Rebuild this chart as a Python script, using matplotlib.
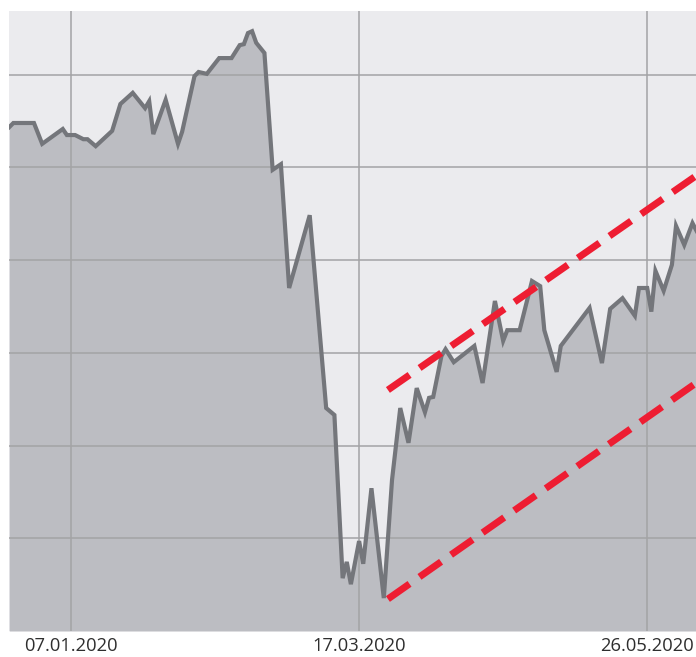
import matplotlib
matplotlib.use("Agg")
import matplotlib.pyplot as plt
import pandas as pd

# Index path (approximate vertices)
dates = [
    "2019-12-23", "2019-12-24", "2019-12-29", "2019-12-31", "2020-01-05",
    "2020-01-06", "2020-01-08", "2020-01-10", "2020-01-11", "2020-01-13",
    "2020-01-17", "2020-01-19", "2020-01-22", "2020-01-25", "2020-01-26",
    "2020-01-27", "2020-01-30", "2020-02-02", "2020-02-03", "2020-02-06",
    "2020-02-07", "2020-02-09", "2020-02-12", "2020-02-15", "2020-02-17",
    "2020-02-18", "2020-02-19", "2020-02-20", "2020-02-21", "2020-02-23",
    "2020-02-25", "2020-02-27", "2020-02-29", "2020-03-05", "2020-03-09",
    "2020-03-11", "2020-03-13", "2020-03-14", "2020-03-15", "2020-03-17",
    "2020-03-18", "2020-03-20", "2020-03-23", "2020-03-25", "2020-03-27",
    "2020-03-29", "2020-03-31", "2020-04-02", "2020-04-03", "2020-04-04",
    "2020-04-06", "2020-04-07", "2020-04-09", "2020-04-14", "2020-04-16",
    "2020-04-19", "2020-04-21", "2020-04-22", "2020-04-25", "2020-04-28",
    "2020-04-30", "2020-05-01", "2020-05-04", "2020-05-05", "2020-05-12",
    "2020-05-15", "2020-05-17", "2020-05-20", "2020-05-23", "2020-05-24",
    "2020-05-26", "2020-05-27", "2020-05-28", "2020-05-30", "2020-06-01",
    "2020-06-02", "2020-06-04", "2020-06-06", "2020-06-07",
]
values = [
    3287, 3296, 3296, 3251, 3283,
    3270, 3270, 3261, 3261, 3246,
    3279, 3337, 3361, 3328, 3343,
    3272, 3346, 3251, 3277, 3397,
    3406, 3402, 3436, 3436, 3464,
    3466, 3490, 3494, 3469, 3447,
    3195, 3207, 2940, 3097, 2681,
    2666, 2314, 2349, 2301, 2394,
    2345, 2508, 2271, 2526, 2681,
    2606, 2724, 2672, 2703, 2705,
    2793, 2808, 2780, 2815, 2735,
    2912, 2826, 2849, 2849, 2955,
    2944, 2849, 2759, 2815, 2897,
    2778, 2895, 2918, 2880, 2940,
    2940, 2889, 2977, 2934, 2990,
    3074, 3033, 3080, 3063,
]

# Trend channel (red dashed lines)
channel_dates = ["2020-03-24", "2020-06-08"]
channel_upper = [2720, 3189]
channel_lower = [2269, 2742]

tick_dates = ["2020-01-07", "2020-03-17", "2020-05-26"]
tick_labels = ["07.01.2020", "17.03.2020", "26.05.2020"]
grid_levels = [2400, 2600, 2800, 3000, 3200, 3400]

x = pd.to_datetime(dates)
cx = pd.to_datetime(channel_dates)
y_min, y_max = 2200, 3537.6

fig = plt.figure(figsize=(6.96, 6.57), dpi=100)
ax = fig.add_axes([9 / 696, 26 / 657, 687 / 696, 620 / 657])
ax.set_facecolor("#ebebee")

ax.fill_between(x, values, y_min, color="#bcbdc2", lw=0, zorder=1)
ax.plot(x, values, color="#74767b", lw=3.0, solid_joinstyle="miter", zorder=3)

for yv in (channel_upper, channel_lower):
    ax.plot(cx, yv, color="#ee1d32", lw=5.0, dashes=(3.8, 1.75),
            dash_capstyle="butt", zorder=4)

ax.set_xlim(pd.Timestamp("2019-12-22 22:30"), pd.Timestamp("2020-06-06 20:30"))
ax.set_ylim(y_min, y_max)

ax.set_xticks(pd.to_datetime(tick_dates))
ax.set_xticklabels(tick_labels, fontfamily="Open Sans", fontsize=13.2, color="#2e2e2e")
ax.set_yticks(grid_levels)
ax.set_yticklabels([])
ax.tick_params(axis="both", length=0)
ax.tick_params(axis="x", pad=4)

ax.set_axisbelow(False)
ax.grid(True, color="#a3a3a5", lw=1.1, zorder=2)
for s in ax.spines.values():
    s.set_visible(False)

fig.savefig("out.png", dpi=100)
